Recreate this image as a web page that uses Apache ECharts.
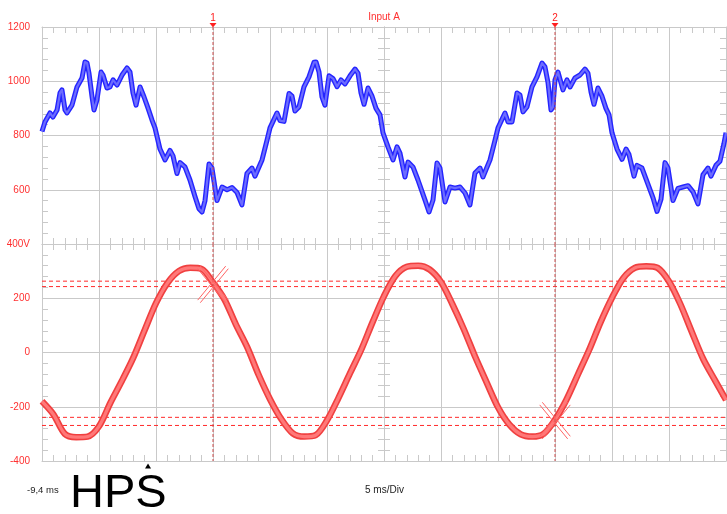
<!DOCTYPE html>
<html>
<head>
<meta charset="utf-8">
<script src="https://cdn.jsdelivr.net/npm/echarts@6/dist/echarts.min.js"></script>
<style>
  html, body { margin: 0; padding: 0; background: #ffffff; }
  #main { width: 727px; height: 514px; }
</style>
</head>
<body>
<div id="main"></div>
<script>
// Scope capture: 12 divisions of 5 ms, time measured from the left edge of the screen.
const timeStartLabel = '-9,4 ms';
const timebaseLabel = '5 ms/Div';
const channelTitle = 'Input A';
const probeName = 'HPS';

// Upper trace (channel scale 400 .. 1200)
const blueT = [
  0.00, 0.26, 0.70, 0.96, 1.32, 1.58, 1.75, 2.02, 2.19, 2.63, 3.07, 3.51, 3.77, 3.95, 4.12, 4.39,
  4.56, 4.82, 5.18, 5.35, 5.70, 5.96, 6.23, 6.58, 7.02, 7.46, 7.72, 7.98, 8.25, 8.60, 8.95, 9.30,
  9.65, 9.91, 10.35, 10.79, 11.23, 11.49, 11.84, 12.11, 12.54, 12.98, 13.42, 13.77, 14.04, 14.30,
  14.65, 14.91, 15.35, 15.79, 16.23, 16.67, 17.11, 17.54, 17.98, 18.42, 18.68, 19.30, 19.74, 20.00,
  20.61, 20.88, 21.23, 21.67, 21.93, 22.19, 22.54, 22.98, 23.42, 23.86, 24.04, 24.30, 24.56, 24.82,
  25.18, 25.53, 25.88, 26.23, 26.58, 27.02, 27.46, 27.72, 27.98, 28.25, 28.60, 28.95, 29.30, 29.65,
  29.91, 30.35, 30.79, 31.14, 31.40, 31.84, 32.11, 32.54, 32.98, 33.60, 33.95, 34.30, 34.65, 34.91,
  35.35, 35.79, 36.23, 36.67, 37.11, 37.54, 37.98, 38.42, 38.68, 39.30, 39.74, 40.00, 40.61, 40.88,
  41.23, 41.67, 41.93, 42.19, 42.54, 42.98, 43.42, 43.86, 44.12, 44.39, 44.65, 44.82, 45.00, 45.26,
  45.70, 46.05, 46.32, 46.75, 47.19, 47.63, 47.89, 48.16, 48.42, 48.77, 49.12, 49.47, 49.74, 50.00,
  50.44, 50.88, 51.23, 51.49, 51.93, 52.19, 52.63, 53.07, 53.60, 53.95, 54.30, 54.65, 54.91, 55.35,
  55.79, 56.23, 56.67, 57.11, 57.54, 57.98, 58.42, 58.68, 59.12, 59.47, 59.82, 60.00
];
const blueV = [
  815, 850, 883, 868, 894, 957, 968, 894, 883, 912, 979, 1012, 1071, 1067, 1030, 942,
  894, 931, 1034, 1023, 975, 979, 1005, 986, 1023, 1049, 1034, 957, 912, 979, 942, 901,
  857, 828, 750, 710, 745, 725, 660, 700, 684, 636, 575, 530, 518, 560,
  695, 680, 560, 610, 600, 608, 590, 544, 660, 680, 650, 710, 783, 828,
  883, 855, 852, 955, 945, 890, 905, 979, 1016, 1070, 1071, 1034, 942, 912,
  1020, 1010, 980, 1005, 990, 1020, 1045, 1030, 957, 915, 975, 945, 900, 876,
  810, 758, 710, 758, 735, 647, 702, 684, 636, 562, 518, 562, 699, 680,
  555, 610, 606, 610, 588, 544, 662, 680, 647, 710, 783, 828, 883, 850,
  850, 957, 949, 887, 905, 979, 1016, 1067, 1053, 994, 894, 905, 1005, 1034,
  968, 1005, 979, 1012, 1023, 1045, 1030, 960, 915, 975, 945, 900, 876, 810,
  750, 712, 750, 730, 650, 690, 680, 630, 570, 520, 565, 700, 680, 560,
  605, 610, 615, 592, 548, 655, 680, 650, 690, 705, 770, 810
];

// Lower trace (volts), one reading per millisecond
const redT = [
  0, 1, 2, 3, 4, 5, 6, 7, 8, 9, 10, 11, 12, 13, 14, 15, 16, 17, 18, 19, 20,
  21, 22, 23, 24, 25, 26, 27, 28, 29, 30, 31, 32, 33, 34, 35, 36, 37, 38, 39, 40,
  41, 42, 43, 44, 45, 46, 47, 48, 49, 50, 51, 52, 53, 54, 55, 56, 57, 58, 59, 60
];
const redV = [
  -180, -228, -300, -312, -310, -272, -185, -105, -20, 82, 182, 256, 300, 312, 308, 258, 196, 104, 20, -82, -172,
  -246, -298, -310, -305, -250, -168, -78, 10, 112, 208, 282, 316, 320, 306, 260, 178, 86, -16, -110, -202,
  -266, -302, -310, -300, -248, -174, -82, 10, 112, 202, 275, 312, 318, 312, 262, 178, 76, -24, -100, -175
];

// Cursors: time position, name, level lines and the crossing marker
const cursorT = [15, 45];
const cursorNames = ['1', '2'];
const cursorCross = [251, -251];
const cursorLevels = [263, 243, -239, -269];
const triggerT = 9.3;

// Axis scales
const topRange = [400, 1200];
const bottomRange = [-400, 400];
const voltStep = 200;
const timeRange = [0, 60];
const timeStep = 5;

const GRID = '#c9c9c9';
const LABEL_RED = '#ff3030';
const CURSOR = '#cc4a4a';
const LEVEL = '#ff2a2a';
const FONT = '"Liberation Sans", Arial, sans-serif';

const bluePts = blueT.map((t, i) => [t, blueV[i]]);
const redPts = redT.map((t, i) => [t, redV[i]]);

function xAx(gridIndex, position, withSplit) {
  return {
    type: 'value', gridIndex, position,
    min: timeRange[0], max: timeRange[1], interval: timeStep,
    axisLine: { show: true, onZero: false, lineStyle: { color: GRID } },
    axisTick: { show: true, inside: true, length: 6, lineStyle: { color: GRID } },
    minorTick: { show: true, splitNumber: 5, length: 6, lineStyle: { color: GRID } },
    axisLabel: { show: false },
    splitLine: { show: withSplit, lineStyle: { color: GRID, width: 1 } }
  };
}

function yAx(gridIndex, range, kind) {
  const ax = {
    type: 'value', gridIndex,
    min: range[0], max: range[1], interval: voltStep,
    axisLine: { show: true, onZero: false, lineStyle: { color: GRID } },
    axisTick: { show: true, inside: kind !== 'centerOut', length: 6, lineStyle: { color: GRID } },
    minorTick: { show: true, splitNumber: 5, length: 6, lineStyle: { color: GRID } },
    axisLabel: { show: false },
    splitLine: { show: false }
  };
  if (kind === 'left') {
    ax.position = 'left';
    ax.splitLine = { show: true, lineStyle: { color: GRID, width: 1 } };
    ax.axisLabel = {
      show: true, color: LABEL_RED, fontSize: 10, fontFamily: FONT, margin: 12,
      formatter: v => {
        if (gridIndex === 0) return v === range[0] ? '' : String(v);
        return v === range[1] ? v + 'V' : String(v);
      }
    };
  } else if (kind === 'right') {
    ax.position = 'right';
  } else {
    ax.position = 'right';
    ax.offset = -342;
  }
  return ax;
}

// Vertical cursor lines across a panel; the upper panel also carries the cursor number and flag.
function cursorRenderer(withFlag) {
  return function (params, api) {
    const cs = params.coordSys;
    const x = api.coord([api.value(0), 0])[0];
    const children = [{
      type: 'line',
      shape: { x1: x, y1: cs.y, x2: x, y2: cs.y + cs.height },
      style: { stroke: CURSOR, lineWidth: 1, lineDash: [3, 2] }
    }];
    if (withFlag) {
      children.push({
        type: 'polygon',
        shape: { points: [[x - 3.5, cs.y - 4], [x + 3.5, cs.y - 4], [x, cs.y + 0.5]] },
        style: { fill: '#ff2020' }
      });
      children.push({
        type: 'text', x: x, y: cs.y - 4,
        style: { text: cursorNames[params.dataIndex], fill: '#ff2020', font: '10px ' + FONT, align: 'center', verticalAlign: 'bottom' }
      });
    }
    return { type: 'group', children };
  };
}

const chart = echarts.init(document.getElementById('main'), null, { renderer: 'canvas' });

chart.setOption({
  animation: false,
  backgroundColor: '#ffffff',
  grid: [
    { left: 42, right: 1, top: 27, height: 217, outerBoundsMode: 'none' },
    { left: 42, right: 1, top: 244, height: 217, outerBoundsMode: 'none' }
  ],
  xAxis: [
    xAx(0, 'top', true), xAx(0, 'bottom', false),
    xAx(1, 'top', true), xAx(1, 'bottom', false)
  ],
  yAxis: [
    yAx(0, topRange, 'left'), yAx(0, topRange, 'right'),
    yAx(0, topRange, 'centerIn'), yAx(0, topRange, 'centerOut'),
    yAx(1, bottomRange, 'left'), yAx(1, bottomRange, 'right'),
    yAx(1, bottomRange, 'centerIn'), yAx(1, bottomRange, 'centerOut')
  ],
  graphic: [
    { type: 'text', x: 384, y: 17, style: { text: channelTitle, fill: LABEL_RED, font: '10px ' + FONT, textAlign: 'center', textVerticalAlign: 'middle' } },
    { type: 'text', x: 27, y: 490, style: { text: timeStartLabel, fill: '#222', font: '9.5px ' + FONT, textAlign: 'left', textVerticalAlign: 'middle' } },
    { type: 'text', x: 365, y: 490, style: { text: timebaseLabel, fill: '#222', font: '10px ' + FONT, textAlign: 'left', textVerticalAlign: 'middle' } },
    { type: 'text', x: 70, y: 471, style: { text: probeName, fill: '#000', font: '47px ' + FONT, textAlign: 'left', textVerticalAlign: 'top' } }
  ],
  series: [
    {
      type: 'custom', xAxisIndex: 0, yAxisIndex: 0, silent: true, z: 5,
      data: cursorT.map(t => [t]),
      renderItem: cursorRenderer(true)
    },
    {
      type: 'custom', xAxisIndex: 2, yAxisIndex: 4, silent: true, z: 5,
      data: cursorT.map(t => [t]),
      renderItem: cursorRenderer(false)
    },
    {
      // cursor level lines
      type: 'custom', xAxisIndex: 2, yAxisIndex: 4, silent: true, z: 2,
      data: cursorLevels.map(v => [v]),
      renderItem(params, api) {
        const cs = params.coordSys;
        const y = api.coord([0, api.value(0)])[1];
        return {
          type: 'line',
          shape: { x1: cs.x, y1: y, x2: cs.x + cs.width, y2: y },
          style: { stroke: LEVEL, lineWidth: 1, lineDash: [4, 3] }
        };
      }
    },
    {
      type: 'line', xAxisIndex: 0, yAxisIndex: 0, data: bluePts,
      symbol: 'none', silent: true, z: 3,
      lineStyle: { color: '#2424ff', width: 5, join: 'round' }
    },
    {
      type: 'line', xAxisIndex: 0, yAxisIndex: 0, data: bluePts,
      symbol: 'none', silent: true, z: 4,
      lineStyle: { color: '#6c6cff', width: 2.2, join: 'round' }
    },
    {
      type: 'line', xAxisIndex: 2, yAxisIndex: 4, data: redPts,
      symbol: 'none', silent: true, smooth: 0.3, z: 3,
      lineStyle: { color: '#f04040', width: 6.5, join: 'round' },
      markPoint: {
        silent: true, symbol: 'triangle', symbolSize: [6, 5], symbolOffset: [0, 5],
        itemStyle: { color: '#000' }, label: { show: false },
        data: [{ coord: [triggerT, bottomRange[0]] }]
      }
    },
    {
      type: 'line', xAxisIndex: 2, yAxisIndex: 4, data: redPts,
      symbol: 'none', silent: true, smooth: 0.3, z: 4,
      lineStyle: { color: '#ff7878', width: 3.2, join: 'round' }
    },
    {
      // crossing markers where each cursor meets the lower trace
      type: 'custom', xAxisIndex: 2, yAxisIndex: 4, silent: true, z: 6,
      data: cursorT.map((t, i) => [t, cursorCross[i]]),
      renderItem(params, api) {
        const c = api.coord([api.value(0), api.value(1)]);
        const w = 14, h = 17, g = 1.3;
        const seg = (x1, y1, x2, y2) => ({
          type: 'line',
          shape: { x1, y1, x2, y2 },
          style: { stroke: '#ff6464', lineWidth: 1 }
        });
        return {
          type: 'group',
          children: [
            seg(c[0] - w + g, c[1] - h - g, c[0] + w + g, c[1] + h - g),
            seg(c[0] - w - g, c[1] - h + g, c[0] + w - g, c[1] + h + g),
            seg(c[0] + w + g, c[1] - h + g, c[0] - w + g, c[1] + h + g),
            seg(c[0] + w - g, c[1] - h - g, c[0] - w - g, c[1] + h - g)
          ]
        };
      }
    }
  ]
});
</script>
</body>
</html>
